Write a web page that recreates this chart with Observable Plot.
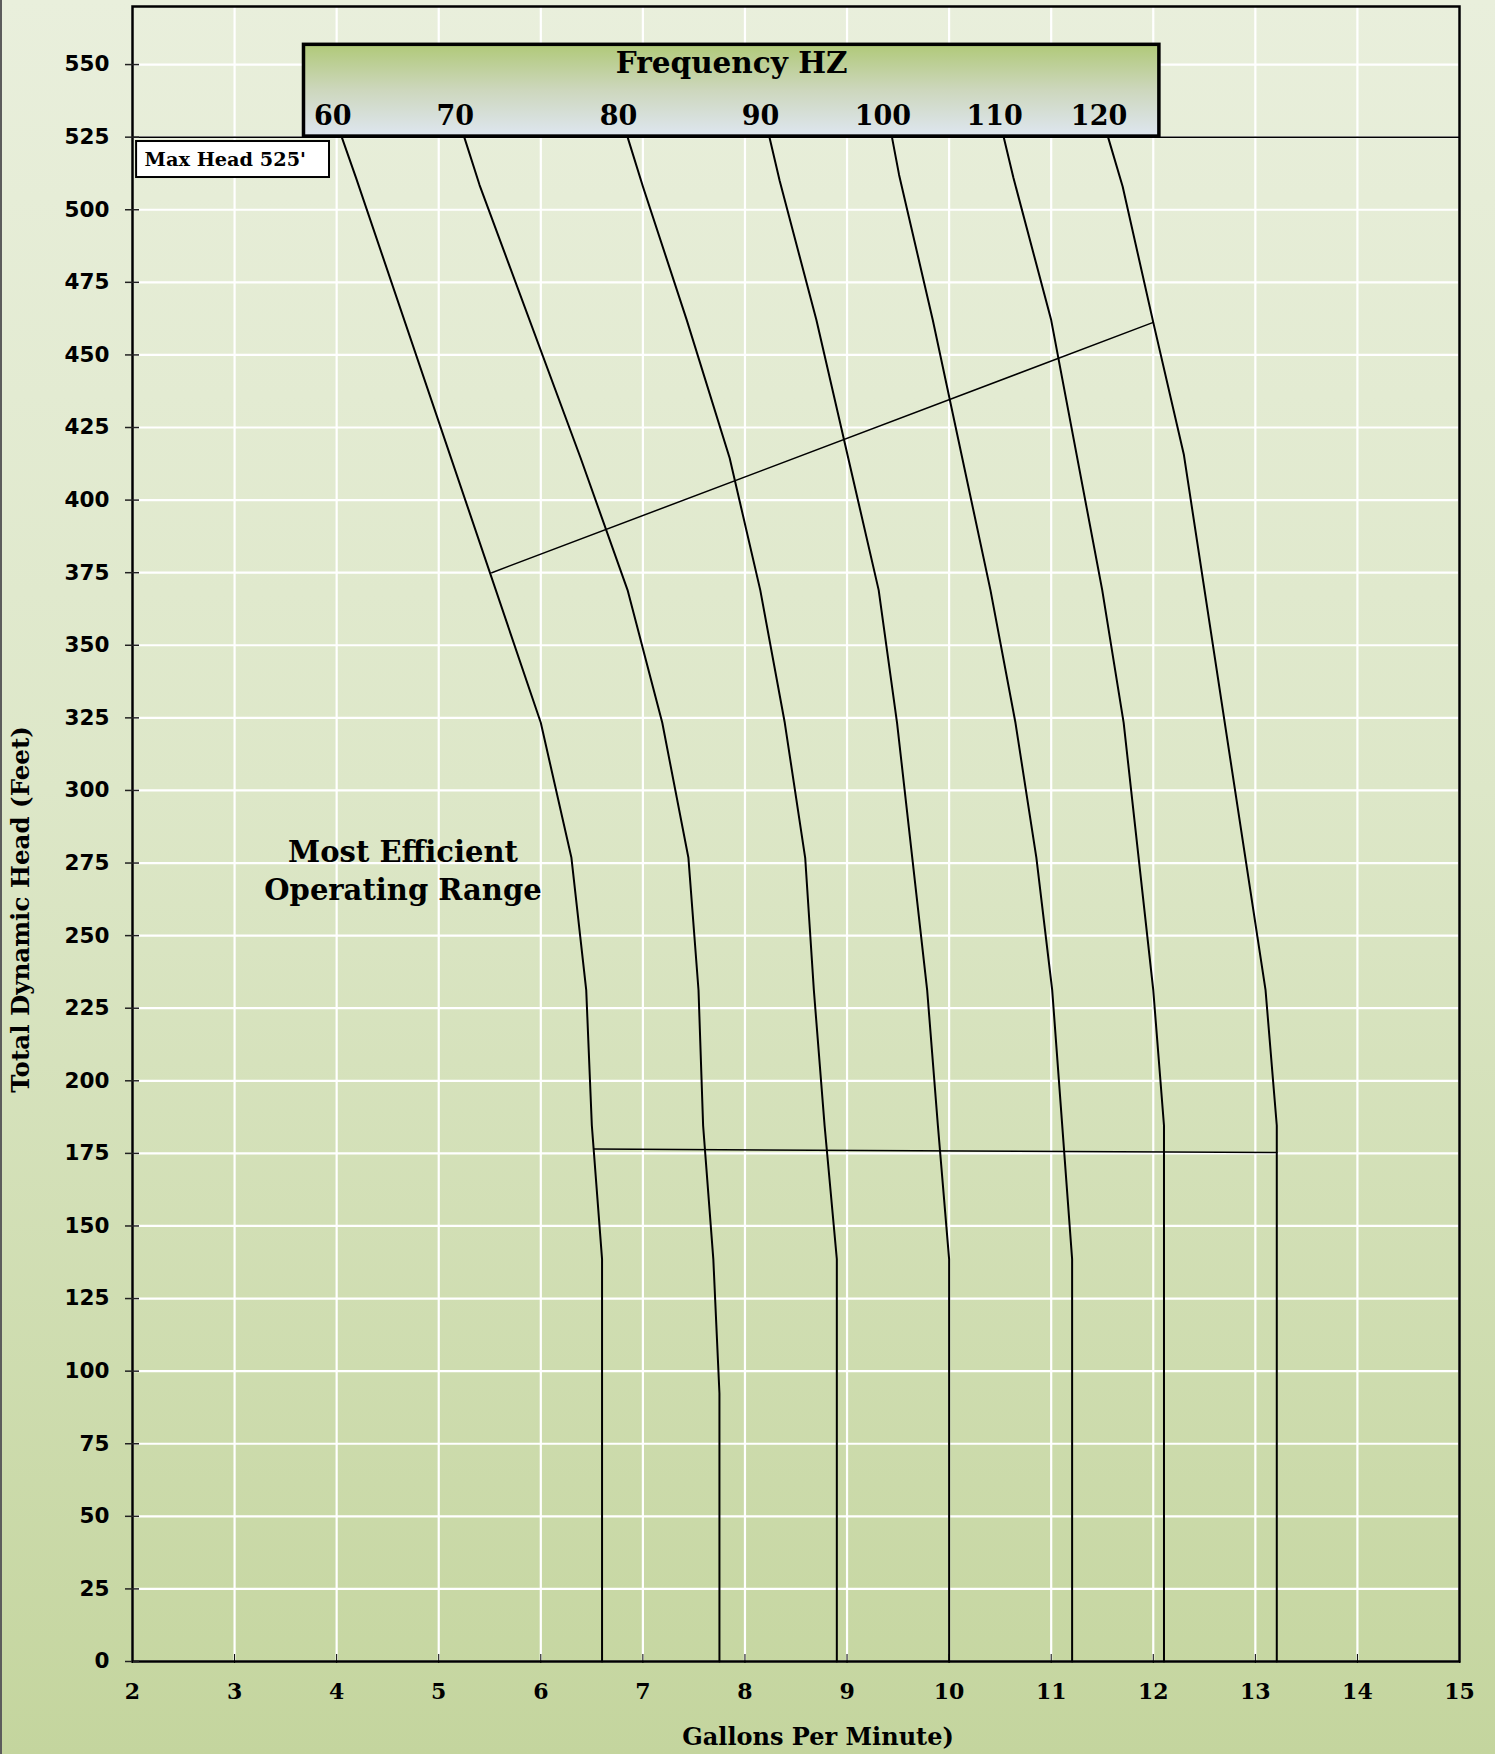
<!DOCTYPE html>
<html>
<head>
<meta charset="utf-8">
<script src="https://cdn.jsdelivr.net/npm/d3@7"></script>
<script src="https://cdn.jsdelivr.net/npm/@observablehq/plot@0.6"></script>
<style>
  html, body { margin: 0; padding: 0; }
  body {
    width: 1495px; height: 1754px; overflow: hidden; position: relative;
    background: linear-gradient(to bottom, #e9efdc 0%, #dde7c8 45%, #c4d59e 100%);
  }
  #edge { position: absolute; left: 0; top: 0; width: 2px; height: 100%; background: #5c5c5c; }
  svg { display: block; }
</style>
</head>
<body>
<div id="chart"></div>
<div id="edge"></div>
<script>
// ---- axes ----
const xTicks = [2, 3, 4, 5, 6, 7, 8, 9, 10, 11, 12, 13, 14, 15];
const yTicks = [0, 25, 50, 75, 100, 125, 150, 175, 200, 225, 250, 275, 300, 325, 350, 375, 400, 425, 450, 475, 500, 525, 550];

// ---- pump curves: head (ft) and flow (gpm) per frequency ----
const frequencies = [60, 70, 80, 90, 100, 110, 120];
const head60  = [525, 511, 323.3, 276.8, 231.2, 184.6, 138.6, 0];
const gpm60   = [4.05, 4.19, 6.00, 6.30, 6.445, 6.50, 6.60, 6.60];
const head70  = [525, 508.5, 414.5, 369, 323.3, 276.8, 231.2, 184.6, 138.6, 92.4, 0];
const gpm70   = [5.25, 5.40, 6.39, 6.85, 7.19, 7.446, 7.545, 7.59, 7.69, 7.75, 7.75];
const head80  = [525, 508, 462, 414.5, 369, 323.3, 276.8, 231.2, 184.6, 138.6, 0];
const gpm80   = [6.85, 7.00, 7.43, 7.85, 8.15, 8.39, 8.59, 8.675, 8.78, 8.90, 8.90];
const head90  = [525, 510, 462, 369, 323.3, 231.2, 184.6, 138.6, 0];
const gpm90   = [8.24, 8.34, 8.70, 9.31, 9.49, 9.785, 9.89, 10.0, 10.0];
const head100 = [525, 512, 462, 369, 323.3, 276.8, 231.2, 138.6, 0];
const gpm100  = [9.44, 9.51, 9.84, 10.405, 10.65, 10.855, 11.01, 11.205, 11.205];
const head110 = [525, 511, 462, 369, 323.3, 231.2, 184.6, 0];
const gpm110  = [10.535, 10.63, 11.0, 11.50, 11.71, 12.0, 12.105, 12.105];
const head120 = [525, 508, 461.2, 415.6, 231.2, 184.6, 0];
const gpm120  = [11.557, 11.70, 12.0, 12.30, 13.10, 13.21, 13.21];

// ---- efficiency range boundaries ----
const effUpperGpm  = [5.52, 12.0];
const effUpperHead = [375, 461.2];
const effLowerGpm  = [6.52, 13.21];
const effLowerHead = [176.5, 175.3];

// ---- annotations ----
const maxHead = 525;
const maxHeadLabel = "Max Head 525'";
const maxHeadBoxGpm = [2.04, 3.93];
const maxHeadBoxHead = [511.1, 523.5];
const freqBoxGpm = [3.68, 12.06];
const freqBoxHead = [525.2, 556.8];
const freqTitle = "Frequency HZ";
const freqTitleHead = 550.3;
const freqLabelHead = 532;
const rangeLabel = "Most Efficient\nOperating Range";
const rangeLabelPos = [4.65, 272.9];
const xLabel = "Gallons Per Minute)";
const yLabel = "Total Dynamic Head (Feet)";
const yLabelHead = 259;

// ---- build tables ----
const heads = [head60, head70, head80, head90, head100, head110, head120];
const gpms = [gpm60, gpm70, gpm80, gpm90, gpm100, gpm110, gpm120];
const curveRows = frequencies.flatMap((hz, i) => heads[i].map((h, j) => ({hz, head: h, gpm: gpms[i][j]})));
const effRows = [
  ...effUpperGpm.map((g, i) => ({k: "upper", gpm: g, head: effUpperHead[i]})),
  ...effLowerGpm.map((g, i) => ({k: "lower", gpm: g, head: effLowerHead[i]}))
];
const freqLabels = frequencies.map((hz, i) => ({hz, gpm: gpms[i][0]}));

const serif = "'DejaVu Serif', 'Liberation Serif', serif";
const sans = "'DejaVu Sans', 'Liberation Sans', sans-serif";

const chart = Plot.plot({
  width: 1495,
  height: 1754,
  marginLeft: 132,
  marginRight: 36,
  marginTop: 6,
  marginBottom: 93,
  style: {background: "transparent", overflow: "visible"},
  x: {domain: [2, 15], axis: null},
  y: {domain: [0, 570], axis: null},
  marks: [
    Plot.gridX(xTicks, {stroke: "white", strokeOpacity: 1, strokeWidth: 2.2}),
    Plot.gridY(yTicks, {stroke: "white", strokeOpacity: 1, strokeWidth: 2.2}),
    Plot.ruleY([maxHead], {stroke: "black", strokeWidth: 1.5}),
    Plot.line(curveRows, {x: "gpm", y: "head", z: "hz", stroke: "black", strokeWidth: 2}),
    Plot.line(effRows, {x: "gpm", y: "head", z: "k", stroke: "black", strokeWidth: 1.5}),
    Plot.rect([0], {x1: () => freqBoxGpm[0], x2: () => freqBoxGpm[1], y1: () => freqBoxHead[0], y2: () => freqBoxHead[1],
      fill: "url(#freqGrad)", stroke: "black", strokeWidth: 3.5}),
    Plot.text([freqTitle], {x: () => (freqBoxGpm[0] + freqBoxGpm[1]) / 2, y: () => freqTitleHead, text: d => d,
      fontFamily: serif, fontWeight: "bold", fontSize: 29.5, fill: "black"}),
    Plot.text(freqLabels, {x: "gpm", y: () => freqLabelHead, text: d => String(d.hz), dx: -9,
      fontFamily: serif, fontWeight: "bold", fontSize: 27, fill: "black"}),
    Plot.rect([0], {x1: () => maxHeadBoxGpm[0], x2: () => maxHeadBoxGpm[1], y1: () => maxHeadBoxHead[0], y2: () => maxHeadBoxHead[1],
      fill: "white", stroke: "black", strokeWidth: 2}),
    Plot.text([maxHeadLabel], {x: () => maxHeadBoxGpm[0], y: () => (maxHeadBoxHead[0] + maxHeadBoxHead[1]) / 2, text: d => d,
      dx: 8, textAnchor: "start", fontFamily: serif, fontWeight: "bold", fontSize: 19.3, fill: "black"}),
    Plot.text([rangeLabel], {x: () => rangeLabelPos[0], y: () => rangeLabelPos[1], text: d => d, lineHeight: 1.31,
      fontFamily: serif, fontWeight: "bold", fontSize: 29, fill: "black"}),
    Plot.frame({stroke: "black", strokeWidth: 2.5}),
    // y ticks crossing the axis
    Plot.axisY(yTicks, {anchor: "left", tickSize: 14, dx: 7, text: null, label: null, stroke: "#222", strokeWidth: 1.5}),
    Plot.axisY(yTicks, {anchor: "left", tickSize: 0, tickPadding: 23, label: null,
      fontFamily: sans, fontWeight: "bold", fontSize: 21.5, fill: "black"}),
    // x ticks crossing the axis
    Plot.axisX(xTicks, {anchor: "bottom", tickSize: 9, dy: -7, text: null, label: null, stroke: "black", strokeWidth: 1}),
    Plot.axisX(xTicks, {anchor: "bottom", tickSize: 0, tickPadding: 22, label: null,
      fontFamily: serif, fontWeight: "bold", fontSize: 22, fill: "black"}),
    Plot.text([xLabel], {frameAnchor: "bottom", dx: 22, dy: 83, text: d => d,
      fontFamily: serif, fontWeight: "bold", fontSize: 24, fill: "black"}),
    Plot.text([yLabel], {frameAnchor: "left", y: () => yLabelHead, dx: -111, rotate: -90, textAnchor: "middle",
      lineAnchor: "middle", text: d => d,
      fontFamily: serif, fontWeight: "bold", fontSize: 24.5, fill: "black"})
  ]
});

const svg = chart.tagName.toLowerCase() === "svg" ? chart : chart.querySelector("svg");
const ns = "http://www.w3.org/2000/svg";
const defs = document.createElementNS(ns, "defs");
defs.innerHTML = '<linearGradient id="freqGrad" x1="0" y1="0" x2="0" y2="1">' +
  '<stop offset="0" stop-color="#b0c978"/><stop offset="0.5" stop-color="#cdd7bd"/>' +
  '<stop offset="1" stop-color="#dee6f0"/></linearGradient>';
svg.insertBefore(defs, svg.firstChild);
document.getElementById("chart").appendChild(chart);
</script>
</body>
</html>
